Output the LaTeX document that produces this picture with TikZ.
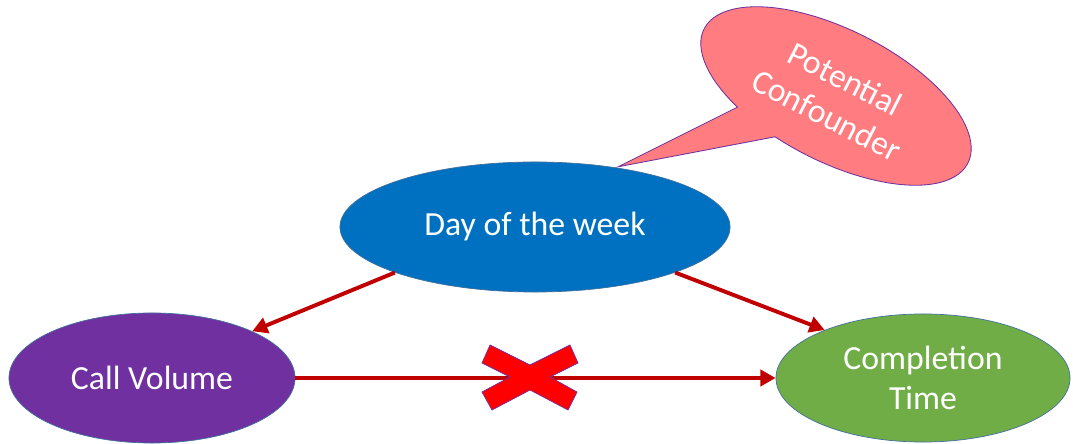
\documentclass[tikz,border=0pt]{standalone}
\usepackage{fontspec}
\setmainfont{Carlito}
\usetikzlibrary{shapes.geometric,arrows.meta}
\definecolor{dayblue}{HTML}{0070C0}
\definecolor{callpurple}{HTML}{7030A0}
\definecolor{compgreen}{HTML}{70AD47}
\definecolor{notepink}{HTML}{FF7C80}
\definecolor{linkred}{HTML}{C00000}
\definecolor{crossred}{HTML}{FF0000}
\definecolor{rimblue}{HTML}{41719C}
\begin{document}
\begin{tikzpicture}[x=0.025cm,y=-0.025cm,
  var/.style={ellipse, draw=rimblue, line width=0.5pt, text=white, align=center,
    font=\fontsize{24}{29}\selectfont, inner sep=0pt},
  link/.style={draw=linkred, line width=2.8pt, -{Triangle[length=0.38cm,width=0.4cm]}}]
\useasboundingbox (0,0) rectangle (1073,444);

\node[var, fill=dayblue, minimum width=9.75cm, minimum height=3.25cm] (day) at (535,227) {Day of the week};
\node[var, fill=callpurple, minimum width=7.15cm, minimum height=3.25cm] (call) at (152,378) {Call Volume};
\node[var, fill=compgreen, minimum width=7.35cm, minimum height=3.2cm] (comp) at (923,378) {Completion\\Time};

% callout
\begin{scope}[shift={(836,96)}, rotate=-27]
\filldraw[fill=notepink, draw=callpurple, line width=0.6pt]
  ({148*cos(104)},{66*sin(104)}) -- (-162,162) --
  plot[domain=124:464, samples=90] ({148*cos(\x)},{66*sin(\x)}) -- cycle;
\end{scope}
\node[text=white, align=center, font=\fontsize{24}{29}\selectfont, rotate=-27] (note) at (836,97) {Potential\\Confounder};

\draw[link] (day.198) -- (call.25);
\draw[link] (day.342) -- (comp.154);
\draw[link] (call.east) -- (comp.west);

% the cross
\coordinate (cross) at (530,377);
\filldraw[fill=crossred, draw=callpurple, line width=0.5pt, shift={(cross)}]
  (-40,-32) -- (0,-12) -- (40,-32) -- (48,-14) -- (20,0) -- (47,15) -- (38,33)
  -- (0,13) -- (-38,33) -- (-48,15) -- (-20,0) -- (-48,-14) -- cycle;
\end{tikzpicture}
\end{document}
